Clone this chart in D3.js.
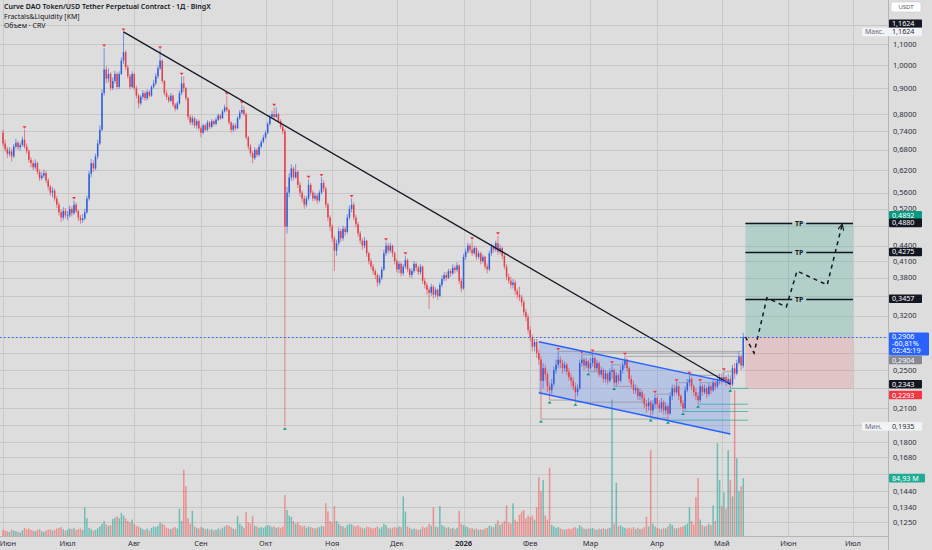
<!DOCTYPE html>
<html>
<head>
<meta charset="utf-8">
<script src="https://cdn.jsdelivr.net/npm/d3@7"></script>
<style>
  body { margin: 0; background: #dddddd; }
  svg { display: block; font-family: "Noto Sans", Roboto, sans-serif; }
</style>
</head>
<body>
<svg id="chart" width="932" height="550"></svg>
<script>
// daily candles, one row per day: [close, high, low, volume in millions]
// open of each day is the previous close (24/7 market)
const firstOpen = 0.735;
const jun = [[.700,.745,.690,9],[.682,.712,.675,8],[.668,.690,.655,7],[.675,.688,.660,6],[.660,.684,.645,9],
  [.690,.698,.655,8],[.702,.715,.684,7],[.688,.708,.680,6],[.695,.703,.678,5],[.712,.722,.690,8],
  [.690,.745,.684,12],[.676,.700,.668,10],[.650,.682,.642,11],[.640,.658,.628,9],[.628,.648,.620,8],
  [.640,.652,.622,7],[.615,.645,.608,9],[.598,.622,.590,10],[.605,.614,.592,7],[.612,.622,.598,6],
  [.592,.618,.585,8],[.575,.598,.566,9],[.560,.580,.552,10],[.565,.574,.548,8],[.545,.570,.538,9],
  [.530,.552,.522,11],[.512,.536,.505,12],[.500,.518,.490,13],[.515,.524,.494,10],[.505,.522,.498,8]];
const jul = [[.505,.515,.494,9],[.520,.528,.500,11],[.510,.525,.502,10],[.530,.540,.506,12],[.515,.535,.510,9],
  [.500,.518,.492,10],[.494,.506,.486,11],[.498,.508,.488,9],[.512,.520,.494,42],[.545,.552,.508,26],
  [.610,.618,.540,12],[.640,.652,.600,10],[.625,.648,.615,8],[.660,.668,.620,9],[.700,.712,.652,11],
  [.745,.760,.695,14],[.880,.895,.740,18],[.980,1.080,.870,22],[.940,.995,.920,17],[.960,.985,.925,15],
  [.900,.968,.890,16],[.930,.945,.892,25],[.960,.975,.920,27],[.905,.968,.895,29],[.960,.972,.898,26],
  [1.020,1.035,.955,34],[1.060,1.1624,1.005,30],[.990,1.070,.978,26],[.950,1.000,.940,22],[.905,.960,.895,20],
  [.960,.972,.900,24]];
const aug = [[.900,.965,.892,18],[.870,.910,.860,15],[.840,.878,.822,14],[.865,.872,.832,12],[.880,.892,.855,10],
  [.860,.888,.850,9],[.885,.895,.852,11],[.870,.892,.862,8],[.905,.912,.865,12],[.920,.935,.898,14],
  [.950,.962,.912,13],[.985,.998,.940,15],[1.020,1.070,.978,20],[.930,1.025,.920,18],[.880,.935,.870,16],
  [.865,.892,.855,12],[.850,.872,.842,11],[.870,.880,.845,10],[.835,.875,.826,12],[.820,.842,.810,13],
  [.840,.848,.815,11],[.880,.890,.835,40],[.920,.950,.872,22],[.900,.950,.885,97],[.860,.905,.850,73],
  [.790,.865,.780,26],[.770,.798,.762,18],[.785,.795,.760,37],[.760,.790,.752,14],[.775,.782,.748,12],
  [.750,.780,.742,11]];
const sep = [[.735,.758,.720,13],[.760,.766,.730,12],[.745,.765,.738,10],[.770,.778,.740,11],[.755,.775,.748,9],
  [.775,.782,.750,10],[.765,.780,.758,8],[.780,.788,.760,9],[.795,.802,.775,11],[.785,.800,.778,10],
  [.810,.818,.782,12],[.825,.835,.805,14],[.815,.870,.808,16],[.770,.820,.762,15],[.745,.775,.735,13],
  [.760,.768,.738,11],[.750,.766,.742,10],[.785,.792,.748,29],[.805,.815,.780,18],[.815,.835,.800,15],
  [.800,.828,.792,12],[.720,.805,.712,35],[.690,.725,.680,20],[.670,.698,.660,18],[.655,.676,.640,29],
  [.680,.688,.650,15],[.665,.685,.658,14],[.690,.698,.660,12],[.705,.712,.684,13],[.720,.728,.700,12]];
const oct = [[.735,.742,.715,14],[.765,.772,.730,16],[.790,.798,.760,15],[.800,.812,.785,13],[.790,.825,.782,14],
  [.800,.825,.785,12],[.775,.805,.768,13],[.755,.782,.748,12],[.740,.762,.730,14],[.480,.748,.1935,60],
  [.560,.575,.465,38],[.600,.612,.548,30],[.625,.637,.590,28],[.600,.630,.592,22],[.615,.637,.596,18],
  [.580,.620,.572,20],[.560,.588,.550,16],[.545,.566,.536,14],[.530,.552,.520,15],[.545,.552,.524,12],
  [.580,.595,.540,14],[.560,.585,.552,13],[.545,.566,.538,12],[.552,.560,.540,11],[.540,.558,.532,12],
  [.560,.566,.536,13],[.585,.600,.555,15],[.570,.592,.562,14],[.530,.575,.522,48],[.500,.535,.492,36],
  [.480,.505,.470,22]];
const nov = [[.455,.485,.448,20],[.430,.460,.392,44],[.445,.452,.420,22],[.470,.478,.440,18],[.455,.475,.448,15],
  [.475,.482,.450,14],[.468,.480,.460,12],[.500,.508,.465,16],[.520,.528,.495,18],[.530,.545,.512,17],
  [.500,.535,.494,15],[.485,.506,.478,14],[.465,.490,.458,16],[.450,.470,.444,13],[.440,.455,.432,12],
  [.450,.458,.435,11],[.425,.452,.418,14],[.410,.428,.404,13],[.400,.415,.395,12],[.392,.405,.386,11],
  [.385,.396,.378,12],[.372,.388,.365,14],[.380,.385,.368,11],[.395,.400,.376,13],[.425,.432,.392,18],
  [.440,.448,.420,16],[.430,.445,.424,12],[.440,.446,.426,11],[.425,.442,.418,12],[.410,.428,.404,13]];
const dec = [[.395,.414,.390,12],[.405,.410,.388,14],[.388,.408,.382,13],[.400,.405,.384,58],[.412,.420,.396,36],
  [.395,.415,.390,14],[.385,.398,.380,12],[.392,.396,.380,10],[.405,.410,.388,11],[.398,.408,.392,10],
  [.390,.402,.385,9],[.400,.405,.386,10],[.375,.402,.370,14],[.368,.380,.362,12],[.360,.372,.352,13],
  [.355,.364,.330,18],[.365,.370,.350,15],[.352,.368,.346,42],[.360,.364,.348,14],[.350,.362,.344,13],
  [.368,.372,.348,44],[.378,.384,.364,16],[.385,.390,.374,14],[.380,.390,.375,12],[.392,.396,.378,13],
  [.388,.396,.382,11],[.398,.404,.385,12],[.394,.402,.388,10],[.402,.408,.390,12],[.375,.404,.370,37],
  [.362,.380,.356,18]];
const jan = [[.418,.424,.360,16],[.428,.434,.412,14],[.440,.446,.424,13],[.432,.444,.426,11],[.425,.450,.420,12],
  [.435,.440,.422,10],[.418,.438,.412,11],[.425,.430,.414,9],[.410,.428,.404,10],[.418,.422,.406,9],
  [.400,.420,.395,11],[.395,.406,.388,12],[.425,.430,.392,15],[.438,.444,.420,14],[.432,.442,.426,13],
  [.445,.450,.428,18],[.428,.460,.422,23],[.435,.442,.424,16],[.420,.438,.414,19],[.400,.424,.395,22],
  [.382,.404,.376,45],[.375,.388,.370,20],[.368,.382,.362,18],[.372,.378,.362,48],[.358,.376,.352,24],
  [.352,.362,.346,21],[.348,.365,.342,31],[.340,.352,.334,36],[.325,.344,.320,38],[.318,.330,.312,26],
  [.300,.322,.295,30]];
const feb = [[.290,.305,.285,28],[.278,.294,.272,30],[.284,.288,.272,24],[.270,.288,.264,42],[.262,.274,.256,86],
  [.238,.266,.200,66],[.252,.258,.230,82],[.245,.256,.238,30],[.232,.248,.226,24],[.228,.236,.218,100],
  [.235,.240,.224,16],[.250,.254,.232,14],[.256,.262,.246,12],[.262,.272,.252,13],[.258,.266,.252,11],
  [.252,.262,.246,10],[.256,.260,.248,9],[.248,.258,.244,10],[.242,.252,.238,11],[.238,.246,.232,10],
  [.232,.242,.228,12],[.226,.236,.216,13],[.230,.234,.222,11],[.258,.262,.228,16],[.262,.268,.254,13],
  [.255,.265,.250,11],[.260,.264,.252,10],[.252,.262,.248,11]];
const mar = [[.258,.264,.250,11],[.264,.270,.254,12],[.252,.266,.248,10],[.258,.262,.248,9],[.245,.260,.242,11],
  [.250,.254,.242,10],[.240,.252,.236,12],[.246,.250,.236,10],[.238,.248,.234,11],[.248,.252,.236,12],
  [.250,.256,.240,200],[.236,.252,.232,18],[.244,.248,.232,78],[.238,.246,.234,14],[.250,.254,.236,16],
  [.256,.260,.246,13],[.262,.266,.252,12],[.252,.264,.248,11],[.240,.254,.236,12],[.234,.244,.230,11],
  [.228,.238,.224,13],[.230,.234,.224,10],[.222,.232,.218,12],[.226,.230,.218,10],[.220,.228,.216,11],
  [.214,.224,.210,13],[.212,.218,.206,28],[.216,.220,.208,14],[.208,.218,.201,126],[.214,.218,.204,18],
  [.220,.224,.210,14]];
const apr = [[.214,.222,.210,12],[.210,.218,.206,11],[.216,.220,.206,10],[.208,.218,.204,12],[.212,.216,.204,11],
  [.205,.214,.199,14],[.222,.226,.204,18],[.230,.234,.218,16],[.226,.234,.222,12],[.232,.236,.224,11],
  [.222,.234,.218,12],[.215,.224,.212,13],[.210,.218,.207,14],[.228,.232,.208,16],[.236,.240,.226,18],
  [.240,.244,.232,42],[.232,.242,.228,22],[.226,.234,.222,17],[.222,.230,.218,57],[.218,.226,.214,85],
  [.232,.236,.216,24],[.226,.234,.222,16],[.230,.234,.224,14],[.224,.232,.220,15],[.232,.236,.222,18],
  [.228,.234,.224,16],[.236,.240,.226,45],[.232,.238,.228,22],[.238,.242,.230,136],[.242,.246,.234,82]];
const may = [[.238,.246,.234,44],[.242,.248,.236,64],[.236,.244,.232,40],[.240,.246,.234,126],[.234,.244,.230,82],
  [.252,.256,.232,58],[.246,.258,.240,214],[.258,.262,.244,114],[.266,.272,.256,66],[.255,.268,.250,73],
  [.2906,.296,.252,84.93]];

const priceTicks = [1.2, 1.1, 1.0, 0.9, 0.8, 0.74, 0.68, 0.62, 0.56, 0.52, 0.48, 0.44, 0.41, 0.38, 0.35,
  0.32, 0.29, 0.27, 0.25, 0.23, 0.21, 0.195, 0.18, 0.168, 0.156, 0.144, 0.134, 0.125];
const monthNames = ["Янв","Фев","Мар","Апр","Май","Июн","Июл","Авг","Сен","Окт","Ноя","Дек"];

// drawings
const trendDates = ["2025-07-27", "2026-05-05"];
const trendPrices = [1.1624, 0.2343];
const channelDates = ["2026-02-05", "2026-05-05"];
const channelUpper = [0.2843, 0.2360];
const channelLower = [0.2254, 0.1869];
const positionDates = ["2026-05-12", "2026-07-01"];
const entryPrice = 0.2906, stopPrice = 0.2293, targetPrice = 0.4892;
const tpPrices = [0.4880, 0.4275, 0.3457];
const projDates = ["2026-05-12", "2026-05-16", "2026-05-22", "2026-05-31", "2026-06-05", "2026-06-19", "2026-06-26"];
const projPrices = [0.2906, 0.270, 0.347, 0.333, 0.392, 0.368, 0.485];

const W = 932, H = 550, plotR = 888, plotB = 536;
const svg = d3.select("#chart");
const parse = d3.timeParse("%Y-%m-%d");
const fmt = p => p.toFixed(4).replace(".", ",");

const candles = [];
let prev = firstOpen;
const start = new Date(2025, 5, 1);
[jun, jul, aug, sep, oct, nov, dec, jan, feb, mar, apr, may].forEach(m => m.forEach(([c, h, l, v]) => {
  candles.push({ date: d3.timeDay.offset(start, candles.length), o: prev, c, h, l, v });
  prev = c;
}));
const n = candles.length;

const x = d3.scaleTime().domain([new Date(2025, 5, 1), new Date(2026, 6, 1)]).range([3, 853]);
const y = d3.scaleLog().domain([1.3438, 0.11755]).range([0, plotB]);
const yv = d3.scaleLinear().domain([0, 220]).range([plotB, 386]);

svg.append("rect").attr("width", W).attr("height", H).attr("fill", "#dddddd");

const plot = svg.append("g");
plot.append("defs").append("clipPath").attr("id", "clip")
  .append("rect").attr("width", plotR).attr("height", plotB);
const g = plot.append("g").attr("clip-path", "url(#clip)");

// grid
g.selectAll(".hg").data(priceTicks).enter().append("line")
  .attr("x1", 0).attr("x2", plotR).attr("y1", d => Math.round(y(d)) + 0.5).attr("y2", d => Math.round(y(d)) + 0.5)
  .attr("stroke", "#c8c8c8");
const monthTicks = x.ticks(d3.timeMonth.every(1));
g.selectAll(".vg").data(monthTicks).enter().append("line")
  .attr("x1", d => Math.round(x(d)) + 0.5).attr("x2", d => Math.round(x(d)) + 0.5).attr("y1", 0).attr("y2", plotB)
  .attr("stroke", "#c8c8c8");

// volume
g.selectAll(".vol").data(candles).enter().append("rect")
  .attr("x", d => x(d.date) - 0.75).attr("width", 1.5)
  .attr("y", d => yv(d.v)).attr("height", d => plotB - yv(d.v))
  .attr("fill", d => d.c >= d.o ? "rgba(38,166,154,0.6)" : "rgba(239,83,80,0.55)");

// channel fill
const chX = channelDates.map(d => x(parse(d)));
g.append("path")
  .attr("d", `M${chX[0]},${y(channelUpper[0])}L${chX[1]},${y(channelUpper[1])}L${chX[1]},${y(channelLower[1])}L${chX[0]},${y(channelLower[0])}Z`)
  .attr("fill", "rgba(41,98,255,0.2)");

// long position
const px0 = x(parse(positionDates[0])), px1 = x(parse(positionDates[1]));
g.append("rect").attr("x", px0).attr("width", px1 - px0)
  .attr("y", y(targetPrice)).attr("height", y(entryPrice) - y(targetPrice)).attr("fill", "rgba(8,153,129,0.2)");
g.append("rect").attr("x", px0).attr("width", px1 - px0)
  .attr("y", y(entryPrice)).attr("height", y(stopPrice) - y(entryPrice)).attr("fill", "rgba(242,54,69,0.15)");

// candles
const up = "#2f5fde", down = "#e23e4b";
g.selectAll(".wick").data(candles).enter().append("line")
  .attr("x1", d => x(d.date)).attr("x2", d => x(d.date))
  .attr("y1", d => y(Math.max(d.h, d.o, d.c))).attr("y2", d => y(Math.min(d.l, d.o, d.c)))
  .attr("stroke", d => d.c >= d.o ? up : down).attr("stroke-opacity", 0.75).attr("stroke-width", 0.8);
g.selectAll(".body").data(candles).enter().append("rect")
  .attr("x", d => x(d.date) - 0.75).attr("width", 1.5)
  .attr("y", d => y(Math.max(d.o, d.c)))
  .attr("height", d => Math.max(0.8, y(Math.min(d.o, d.c)) - y(Math.max(d.o, d.c))))
  .attr("fill", d => d.c >= d.o ? up : down);

// fractals & liquidity
const k = 3;
const isHigh = i => { for (let j = 1; j <= k; j++) { if (i - j < 0 || i + j >= n) return false;
  if (candles[i - j].h >= candles[i].h || candles[i + j].h > candles[i].h) return false; } return true; };
const isLow = i => { for (let j = 1; j <= k; j++) { if (i - j < 0 || i + j >= n) return false;
  if (candles[i - j].l <= candles[i].l || candles[i + j].l < candles[i].l) return false; } return true; };
const minIdx = d3.minIndex(candles, d => d.l);
const highs = d3.range(n).filter(isHigh);
const lows = d3.range(n).filter(i => (isLow(i) && i >= 245) || i === minIdx);

highs.filter(i => i >= 245).forEach(i => {
  let j = i + 1; while (j < n && candles[j].h <= candles[i].h) j++;
  const open = j >= n;
  g.append("line").attr("x1", x(candles[i].date)).attr("x2", open ? x(candles[n - 1].date) + 5 : x(candles[j].date))
    .attr("y1", y(candles[i].h)).attr("y2", y(candles[i].h))
    .attr("stroke", "#8f929b").attr("stroke-width", 0.7);
});
lows.filter(i => i >= 245).forEach(i => {
  let j = i + 1; while (j < n && candles[j].l >= candles[i].l) j++;
  const open = j >= n;
  g.append("line").attr("x1", x(candles[i].date)).attr("x2", open ? x(candles[n - 1].date) + 5 : x(candles[j].date))
    .attr("y1", y(candles[i].l)).attr("y2", y(candles[i].l))
    .attr("stroke", open ? "#22ab94" : "#8f929b").attr("stroke-width", 0.7);
});
g.selectAll(".fh").data(highs).enter().append("path")
  .attr("d", i => { const cx = x(candles[i].date), cy = y(candles[i].h) - 1; return `M${cx - 2},${cy - 2.5}L${cx + 2},${cy - 2.5}L${cx},${cy}Z`; })
  .attr("fill", "#f23645");
g.selectAll(".fl").data(lows).enter().append("path")
  .attr("d", i => { const cx = x(candles[i].date), cy = y(candles[i].l) + 1; return `M${cx - 2},${cy + 2.5}L${cx + 2},${cy + 2.5}L${cx},${cy}Z`; })
  .attr("fill", "#089981");

// trendline
g.append("line")
  .attr("x1", x(parse(trendDates[0]))).attr("y1", y(trendPrices[0]))
  .attr("x2", x(parse(trendDates[1]))).attr("y2", y(trendPrices[1]))
  .attr("stroke", "#131722").attr("stroke-width", 1.3);

// channel borders
[channelUpper, channelLower].forEach(line => g.append("line")
  .attr("x1", chX[0]).attr("y1", y(line[0])).attr("x2", chX[1]).attr("y2", y(line[1]))
  .attr("stroke", "#2962ff").attr("stroke-width", 1.4));

// TP lines
const tpMid = (px0 + px1) / 2;
tpPrices.forEach(p => {
  const yy = Math.round(y(p)) + 0.5;
  g.append("line").attr("x1", px0).attr("x2", tpMid - 7).attr("y1", yy).attr("y2", yy).attr("stroke", "#131722").attr("stroke-width", 1.3);
  g.append("line").attr("x1", tpMid + 7).attr("x2", px1).attr("y1", yy).attr("y2", yy).attr("stroke", "#131722").attr("stroke-width", 1.3);
  g.append("text").attr("x", tpMid).attr("y", yy + 2.5).attr("text-anchor", "middle")
    .attr("font-size", 7).attr("font-weight", 700).attr("fill", "#131722").text("TP");
});

// projected path
svg.append("defs").append("marker").attr("id", "arr").attr("viewBox", "0 0 8 8")
  .attr("refX", 7).attr("refY", 4).attr("markerWidth", 7).attr("markerHeight", 7)
  .attr("markerUnits", "userSpaceOnUse").attr("orient", "auto")
  .append("path").attr("d", "M0,0.5L7,4L0,7.5").attr("fill", "none").attr("stroke", "#131722").attr("stroke-width", 1.3);
const proj = projDates.map((d, i) => [x(parse(d)), y(projPrices[i])]);
g.append("path").attr("d", d3.line()(proj))
  .attr("fill", "none").attr("stroke", "#131722").attr("stroke-width", 1.5)
  .attr("stroke-dasharray", "4 4").attr("marker-end", "url(#arr)");

// current price line
g.append("line").attr("x1", 0).attr("x2", plotR)
  .attr("y1", Math.round(y(entryPrice)) + 0.5).attr("y2", Math.round(y(entryPrice)) + 0.5)
  .attr("stroke", "#2962ff").attr("stroke-width", 1).attr("stroke-dasharray", "1.5 2.5");

// axes frame
svg.append("line").attr("x1", plotR + 0.5).attr("x2", plotR + 0.5).attr("y1", 0).attr("y2", H).attr("stroke", "#b4b4b4");
svg.append("line").attr("x1", 0).attr("x2", plotR).attr("y1", plotB + 0.5).attr("y2", plotB + 0.5).attr("stroke", "#b4b4b4");

// coloured price tags, placed first so covered tick labels can be left out
const lastC = candles[n - 1];
const lowC = candles[minIdx];
const tagYs = [y(1.1624) - 8, y(1.1624), y(targetPrice) - 7, ...tpPrices.map(y),
  y(lastC.c), y(lastC.c) + 7, y(lastC.c) + 14, y(0.2904) + 23, y(trendPrices[1]), y(stopPrice) + 6, y(lowC.l), yv(lastC.v)];
const visibleTicks = priceTicks.filter(p => tagYs.every(t => Math.abs(t - y(p)) >= 5));

// price axis
svg.selectAll(".pt").data(visibleTicks).enter().append("text")
  .attr("x", 893).attr("y", d => y(d) + 2.6).attr("font-size", 7.5).attr("fill", "#2a2e39").text(fmt);

// time axis
svg.selectAll(".tt").data(monthTicks).enter().append("text")
  .attr("x", d => Math.max(x(d), 8)).attr("y", 546).attr("text-anchor", "middle").attr("font-size", 7.5)
  .attr("font-weight", d => d.getMonth() === 0 ? 700 : 400).attr("fill", "#2a2e39")
  .text(d => d.getMonth() === 0 ? d.getFullYear() : monthNames[d.getMonth()]);

const tag = (cy, text, fill, w = 33) => {
  svg.append("rect").attr("x", 889).attr("y", cy - 4.3).attr("width", w).attr("height", 8.6).attr("rx", 1).attr("fill", fill);
  svg.append("text").attr("x", 892).attr("y", cy + 2.5).attr("font-size", 7.2).attr("fill", "#ffffff").text(text);
};
tag(y(1.1624) - 8, fmt(1.1624), "#131722");
svg.append("rect").attr("x", 862).attr("y", y(1.1624) - 4.3).attr("width", 60).attr("height", 8.6).attr("fill", "#f2f3f6");
svg.append("text").attr("x", 865).attr("y", y(1.1624) + 2.5).attr("font-size", 7).attr("fill", "#6a6d78").text("Макс.");
svg.append("text").attr("x", 892).attr("y", y(1.1624) + 2.5).attr("font-size", 7.2).attr("fill", "#2a2e39").text(fmt(1.1624));
tag(y(targetPrice) - 7, fmt(targetPrice), "#089981");
tpPrices.forEach(p => tag(y(p), fmt(p), "#131722"));
svg.append("rect").attr("x", 889).attr("y", y(lastC.c) - 4.5).attr("width", 40).attr("height", 23).attr("rx", 1).attr("fill", "#2962ff");
svg.append("text").attr("x", 892).attr("y", y(lastC.c) + 2.6).attr("font-size", 7.2).attr("fill", "#fff").text(fmt(lastC.c));
svg.append("text").attr("x", 892).attr("y", y(lastC.c) + 9.6).attr("font-size", 7.2).attr("fill", "#fff").text("-60,81%");
svg.append("text").attr("x", 892).attr("y", y(lastC.c) + 16.6).attr("font-size", 7.2).attr("fill", "#fff").text("02:45:19");
tag(y(0.2904) + 23, fmt(0.2904), "#868993");
tag(y(trendPrices[1]), fmt(trendPrices[1]), "#131722");
tag(y(stopPrice) + 6, fmt(stopPrice), "#f23645");
svg.append("rect").attr("x", 862).attr("y", y(lowC.l) - 4.3).attr("width", 60).attr("height", 8.6).attr("fill", "#f2f3f6");
svg.append("text").attr("x", 865).attr("y", y(lowC.l) + 2.5).attr("font-size", 7).attr("fill", "#6a6d78").text("Мин.");
svg.append("text").attr("x", 892).attr("y", y(lowC.l) + 2.5).attr("font-size", 7.2).attr("fill", "#2a2e39").text(fmt(lowC.l));
tag(yv(lastC.v), lastC.v.toFixed(2).replace(".", ",") + " M", "#22ab94", 36);

// currency box
svg.append("rect").attr("x", 891).attr("y", 2).attr("width", 30).attr("height", 10).attr("rx", 2)
  .attr("fill", "#ffffff").attr("stroke", "#c9cbd1").attr("stroke-width", 0.6);
svg.append("text").attr("x", 906).attr("y", 9.2).attr("text-anchor", "middle").attr("font-size", 6).attr("fill", "#50535e").text("USDT");

// legend
const legend = ["Curve DAO Token/USD Tether Perpetual Contract · 1Д · BingX", "Fractals&Liquidity [KM]", "Объем · CRV"];
svg.selectAll(".lg").data(legend).enter().append("text")
  .attr("x", 4).attr("y", (d, i) => 9 + i * 9.5).attr("font-size", 7)
  .attr("font-weight", (d, i) => i === 0 ? 600 : 400).attr("fill", "#131722").text(d => d);
</script>
</body>
</html>
